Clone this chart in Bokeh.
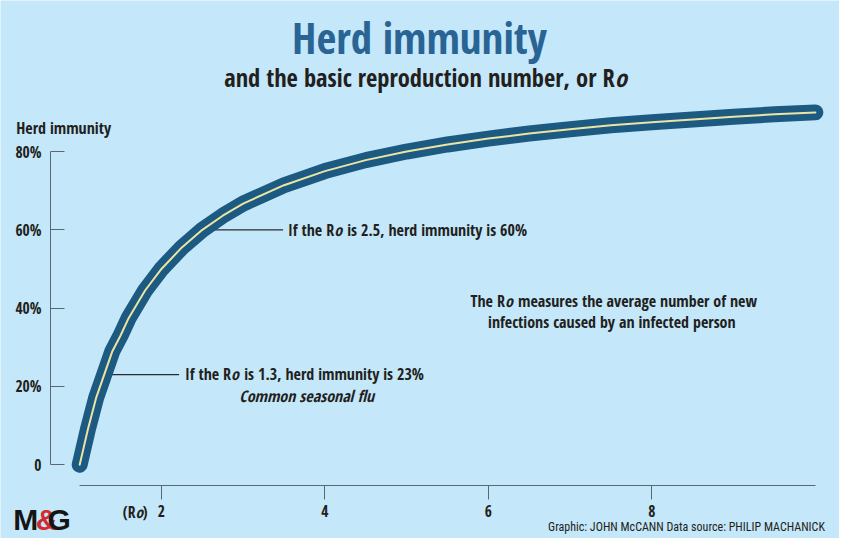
from bokeh.plotting import figure
from bokeh.models import Range1d, FixedTicker, Label, LinearAxis
from bokeh.embed import file_html
from bokeh.resources import INLINE

# ---- data ----
r0_values = [1.0, 1.1, 1.2, 1.3, 1.4, 1.5, 1.6, 1.8, 2.0, 2.25, 2.5, 2.75, 3.0,
             3.5, 4.0, 4.5, 5.0, 5.5, 6.0, 6.5, 7.0, 7.5, 8.0, 8.5, 9.0, 9.5, 10.0]
immunity_pct = [0, 9, 17, 23, 29, 33, 37.5, 44.5, 50, 55.5, 60, 63.6, 66.7,
                71.4, 75, 77.8, 80, 81.8, 83.3, 84.6, 85.7, 86.7, 87.5, 88.2, 88.9, 89.5, 90]
x_ticks = [2, 4, 6, 8]
y_ticks = [0, 20, 40, 60, 80]
y_tick_labels = ["0", "20%", "40%", "60%", "80%"]
annotated_r0 = [2.5, 1.3]
annotated_pct = [60, 23]

# ---- style ----
BG = "#c4e8fa"
TEXT = "#231f20"
TITLE_BLUE = "#2a6494"
CURVE = "#1c5a82"
INNER = "#ebe4a2"
AXIS = "#5a6670"
FONT = "Open Sans Condensed"
FOOT_FONT = "Roboto Condensed"

# reference-pixel -> data helpers (layout only)
X0, SX = -2.6, 83.3
Y0, SY = 478.0, 4.031
def dx(px):
    return (px - X0) / SX
def dy(py):
    return (Y0 - py) / SY

p = figure(width=839, height=538, output_backend="svg", toolbar_location=None,
           x_range=Range1d(dx(0), dx(855)), y_range=Range1d(dy(554), dy(0)),
           x_axis_location=None, y_axis_location=None,
           min_border_left=0, min_border_right=0, min_border_top=0, min_border_bottom=0,
           background_fill_color=BG, border_fill_color=BG, outline_line_color=None)
p.grid.visible = False

xa = LinearAxis(fixed_location=dy(499))
xa.ticker = FixedTicker(ticks=x_ticks)
xa.bounds = (1, 10)
xa.major_tick_out = 14
xa.major_tick_in = 0
xa.minor_tick_out = 0
xa.minor_tick_in = 0
xa.axis_line_color = AXIS
xa.major_tick_line_color = AXIS
xa.major_label_standoff = 6
xa.major_label_text_font = FONT
xa.major_label_text_font_size = "15.5px"
xa.major_label_text_font_style = "bold"
xa.major_label_text_color = TEXT
p.add_layout(xa, "below")

ya = LinearAxis(fixed_location=dx(51))
ya.ticker = FixedTicker(ticks=y_ticks)
ya.bounds = (0, 80)
ya.major_tick_in = 14
ya.major_tick_out = 0
ya.minor_tick_out = 0
ya.minor_tick_in = 0
ya.axis_line_color = AXIS
ya.major_tick_line_color = AXIS
ya.major_label_standoff = 9
ya.major_label_overrides = dict(zip(y_ticks, y_tick_labels))
ya.major_label_text_font = FONT
ya.major_label_text_font_size = "15.5px"
ya.major_label_text_font_style = "bold"
ya.major_label_text_color = TEXT
p.add_layout(ya, "left")

# leader lines
p.segment(x0=annotated_r0, y0=annotated_pct,
          x1=[dx(288), dx(182)], y1=annotated_pct,
          line_color="#2b2b2b", line_width=1.2)

# curve
p.line(r0_values, immunity_pct, line_color=CURVE, line_width=16, line_cap="round", line_join="round")
p.line(r0_values, immunity_pct, line_color=INNER, line_width=2, line_cap="round", line_join="round")

# texts are positioned by the vertical middle of their capitals (reference pixels)
def add_text(txt, px, py, size, style="bold", align="left", color=TEXT, font=FONT, xoff=0):
    p.add_layout(Label(x=dx(px), y=dy(py), text=txt, text_font=font,
                       text_font_size=f"{size}px", text_font_style=style,
                       text_align=align, text_baseline="middle",
                       text_color=color, x_offset=xoff))

def add_ro(before, after, anchor, py, size, style="bold"):
    add_text(before, anchor, py, size, style=style, align="right")
    add_text("o", anchor, py, size, style="bold italic")
    if after:
        add_text(after, anchor, py, size, style=style, xoff=round(0.82 * size, 1))

# titles
add_text("Herd immunity", 427, 38.5, 43, align="center", color=TITLE_BLUE)
add_ro("and the basic reproduction number, or R", "", 626, 79, 24.5)

# axis titles
add_text("Herd immunity", 16, 131, 16)
add_text("(R", 137.5, 526.5, 15.5, align="right")
add_text("o", 137.5, 526.5, 15.5, style="bold italic")
add_text(")", 137.5, 526.5, 15.5, xoff=7)

# annotations
add_ro("If the R", "is 2.5, herd immunity is 60%", 340, 236, 16)
add_ro("If the R", "is 1.3, herd immunity is 23%", 235, 385, 16)
add_text("Common seasonal flu", 312, 407.5, 16, style="bold italic", align="center")
add_ro("The R", "measures the average number of new", 514, 309.5, 16)
add_text("infections caused by an infected person", 623, 331.5, 16, align="center")

# footer and logo
add_text("Graphic: JOHN McCANN  Data source: PHILIP MACHANICK", 843, 542.5, 12, style="normal",
         align="right", font=FOOT_FONT)
add_text("M", 13, 534.5, 30, font="Liberation Sans", color="#151515")
add_text("&", 36, 534.5, 30, font="Liberation Sans", color="#d42a2e")
add_text("G", 48, 534.5, 30, font="Liberation Sans", color="#151515")

open("out.html", "w").write(file_html(p, INLINE))
